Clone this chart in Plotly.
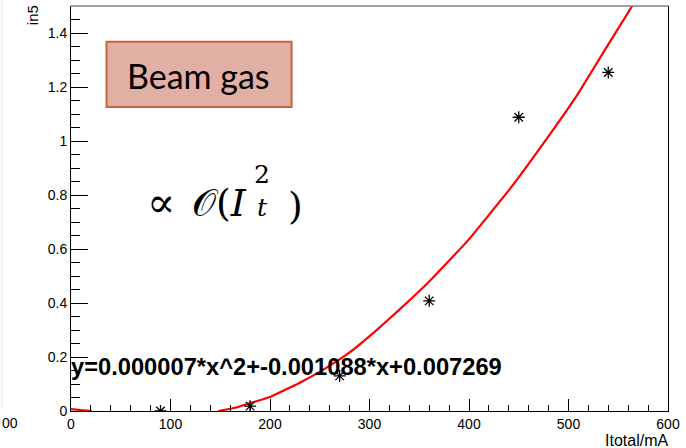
import plotly.graph_objects as go

# measured data points (asterisks)
current_mA = [90, 180, 270, 360, 450, 540]
in5_values = [0.0, 0.018, 0.13, 0.408, 1.088, 1.254]

# fitted curve (clipped below 0)
fit_x = [0, 10, 21, None, 148, 165, 179, 200.7, 229, 255.7, 279, 305.7, 329, 359, 399, 442.3, 482.3, 509, 535.7, 564]
fit_y = [0.007, 0.003, 0.0, None, 0.0, 0.012, 0.028, 0.053, 0.103, 0.158, 0.214, 0.295, 0.372, 0.476, 0.632, 0.828, 1.03, 1.172, 1.332, 1.5]

x_ticks = [0, 100, 200, 300, 400, 500, 600]
y_ticks = [0, 0.2, 0.4, 0.6, 0.8, 1.0, 1.2, 1.4]
y_tick_text = ["0", "0.2", "0.4", "0.6", "0.8", "1", "1.2", "1.4"]

fit_label = "y=0.000007*x^2+-0.001088*x+0.007269"

W, H = 686, 448
L, R, T, B = 71, 15, 6, 37
PW, PH = W - L - R, H - T - B


def P(px, py):
    return (px - L) / PW, (H - B - py) / PH


fig = go.Figure()
fig.add_trace(go.Scatter(x=fit_x, y=fit_y, mode="lines",
                         line=dict(color="#ff0000", width=2.2, shape="spline", smoothing=0.3),
                         connectgaps=False, showlegend=False, hoverinfo="skip"))
fig.add_trace(go.Scatter(x=current_mA, y=in5_values, mode="markers",
                         marker=dict(symbol="asterisk-open", size=10, color="black",
                                     line=dict(color="black", width=1.3)),
                         showlegend=False))

tickfont = dict(family="Liberation Sans, Arial", size=14, color="black")
fig.update_xaxes(range=[0, 600], tickvals=x_ticks, ticks="inside", ticklen=12, tickwidth=1,
                 tickcolor="black", showline=True, linecolor="black", linewidth=1,
                 showgrid=False, zeroline=False, tickfont=tickfont,
                 minor=dict(ticks="inside", ticklen=6, dtick=20, tickcolor="black", showgrid=False))
fig.update_yaxes(range=[0, 1.5], tickvals=y_ticks, ticktext=y_tick_text, ticks="inside", ticklen=17,
                 tickwidth=1, tickcolor="black", showline=True, linecolor="black", linewidth=1,
                 mirror=True, showgrid=False, zeroline=False, tickfont=tickfont,
                 minor=dict(ticks="inside", ticklen=9, dtick=0.05, tickcolor="black", showgrid=False))

shapes = []
# top frame line (gray)
x0, y0 = P(L, T)
x1, _ = P(W - R, T)
shapes.append(dict(type="line", xref="paper", yref="paper", x0=x0, y0=y0, x1=x1, y1=y0,
                   line=dict(color="#808080", width=1.6)))
# faint neighbouring frame on left edge
a0, b0 = P(1.5, 0)
a1, b1 = P(1.5, 409)
shapes.append(dict(type="line", xref="paper", yref="paper", x0=a0, y0=b0, x1=a1, y1=b1,
                   line=dict(color="#e8e8e8", width=1)))
# Beam gas box
bx0, by0 = P(106.7, 107)
bx1, by1 = P(292.7, 41.7)
shapes.append(dict(type="rect", xref="paper", yref="paper", x0=bx0, y0=by0, x1=bx1, y1=by1,
                   fillcolor="#e2afa5", line=dict(color="#c8643c", width=2)))

annotations = []


def ann(text, px, py, size, family="Liberation Sans, Arial", xanchor="center", yanchor="middle",
        angle=0, color="black"):
    ax, ay = P(px, py)
    annotations.append(dict(text=text, x=ax, y=ay, xref="paper", yref="paper", showarrow=False,
                            xanchor=xanchor, yanchor=yanchor, textangle=angle, borderpad=0,
                            font=dict(family=family, size=size, color=color)))


ann("in5", 32, 4, 15, yanchor="top", angle=-90)
ann("Itotal/mA", 672, 441, 16, xanchor="right")
ann("00", 0.5, 423, 14, xanchor="left")
ann("<b>" + fit_label + "</b>", 70, 367, 23.7, xanchor="left")
ann("Beam gas", 199, 75, 34, family="Lato, Open Sans")
serif = "DejaVu Serif, Liberation Serif"
ann("∝", 146, 203, 42, family=serif, xanchor="left")
ann("𝒪(<i>I</i>", 192, 203, 38, family=serif, xanchor="left")
ann("2<br><i>t</i>", 254, 191, 25, family=serif, xanchor="left")
ann(")", 288, 206, 38, family=serif, xanchor="left")

fig.update_layout(width=W, height=H, margin=dict(l=L, r=R, t=T, b=B),
                  paper_bgcolor="white", plot_bgcolor="white",
                  shapes=shapes, annotations=annotations, showlegend=False)

fig.write_html("out.html")
